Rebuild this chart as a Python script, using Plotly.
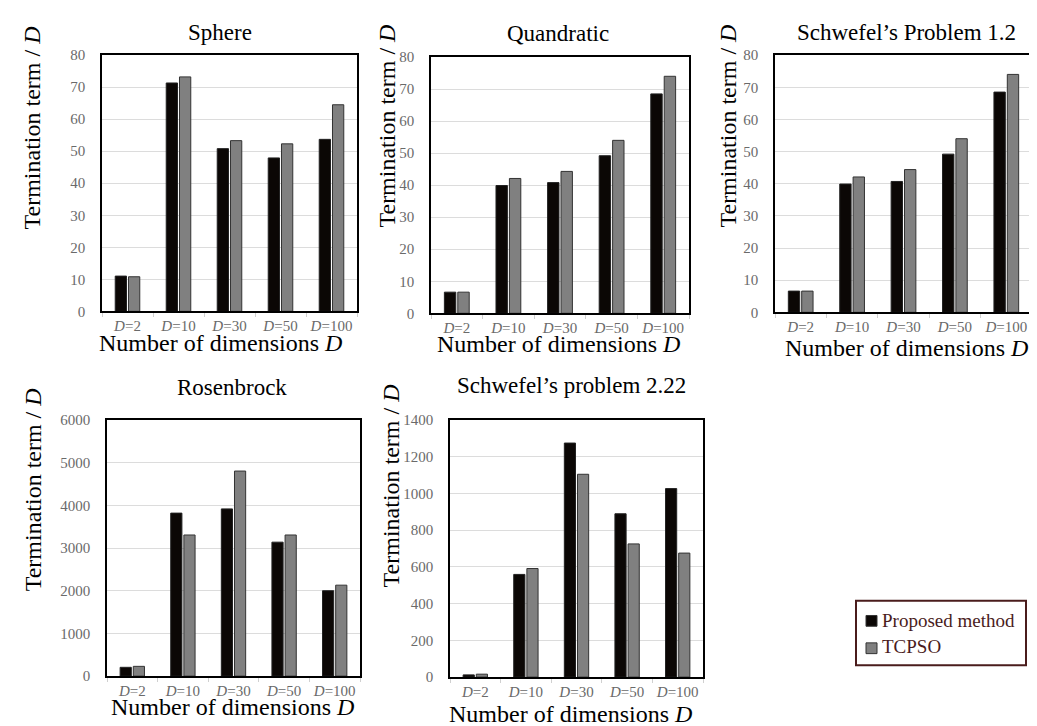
import plotly.graph_objects as go

categories = ["<i>D</i>=2", "<i>D</i>=10", "<i>D</i>=30", "<i>D</i>=50", "<i>D</i>=100"]
series_names = ["Proposed method", "TCPSO"]

sphere_proposed = [11.0, 71.3, 50.8, 47.9, 53.7]
sphere_tcpso = [10.8, 73.2, 53.3, 52.3, 64.5]
quadratic_proposed = [6.6, 39.9, 40.8, 49.2, 68.5]
quadratic_tcpso = [6.6, 42.1, 44.3, 54.0, 74.0]
schwefel12_proposed = [6.6, 39.9, 40.7, 49.2, 68.5]
schwefel12_tcpso = [6.6, 42.1, 44.4, 54.0, 74.0]
rosenbrock_proposed = [206, 3817, 3916, 3137, 2000]
rosenbrock_tcpso = [229, 3305, 4802, 3305, 2130]
schwefel222_proposed = [12, 559, 1274, 889, 1026]
schwefel222_tcpso = [16, 591, 1104, 725, 675]

titles = ["Sphere", "Quandratic", "Schwefel\u2019s Problem 1.2", "Rosenbrock", "Schwefel\u2019s problem 2.22"]
y_ranges = [[0, 80], [0, 80], [0, 80], [0, 6000], [0, 1400]]
y_dticks = [10, 10, 10, 1000, 200]

data = [
    (sphere_proposed, sphere_tcpso),
    (quadratic_proposed, quadratic_tcpso),
    (schwefel12_proposed, schwefel12_tcpso),
    (rosenbrock_proposed, rosenbrock_tcpso),
    (schwefel222_proposed, schwefel222_tcpso),
]

W, H = 1037, 726


def px(x):
    return x / W


def py(y):
    return 1 - y / H


# plot boxes in page pixels: (left, right, top, bottom)
boxes = [
    (94, 349, 40, 302),
    (423, 681, 42, 304),
    (767, 1024, 40, 303),
    (99, 352, 413, 675),
    (442, 695, 413, 676),
]
title_pos = [(212, 17), (550, 18), (898, 17), (224, 380), (563, 378)]
ytitle_pos = [(24, 115), (379, 113), (720, 113), (25, 485), (383, 481)]
xtitle_pos = [(212, 334), (550, 335), (898, 339), (224, 707), (562, 714)]

FONT = "Liberation Serif"
fills = ["#0b0705", "#808080"]
outlines = ["#222222", "#333333"]
LEG_COLOR = "#4a1c1c"

fig = go.Figure()
annotations = []
shapes = []
for i, (vals, box) in enumerate(zip(data, boxes)):
    sfx = "" if i == 0 else str(i + 1)
    l, r, t, b = box
    for s in range(2):
        fig.add_trace(go.Bar(
            x=categories, y=vals[s], name=series_names[s],
            marker=dict(color=fills[s], line=dict(color=outlines[s], width=1)),
            xaxis="x" + sfx, yaxis="y" + sfx,
            showlegend=False,
        ))
    fig.layout["xaxis" + sfx] = dict(
        domain=[px(l), px(r)], anchor="y" + sfx,
        type="category", tickangle=0,
        showline=True, mirror=True, linecolor="#000000", linewidth=1.5,
        ticks="outside", tickson="boundaries", ticklen=4, tickcolor="#d0d0d0",
        tickfont=dict(family=FONT, size=15, color="#6a6a6a"),
        showgrid=False,
    )
    fig.layout["yaxis" + sfx] = dict(
        domain=[py(b), py(t)], anchor="x" + sfx,
        range=y_ranges[i], dtick=y_dticks[i],
        showline=True, mirror=True, linecolor="#000000", linewidth=1.5,
        showgrid=True, gridcolor="#dcdcdc", gridwidth=1,
        zeroline=False,
        ticks="", ticklabelstandoff=12,
        tickfont=dict(family=FONT, size=15, color="#6a6a6a"),
    )
    tx, ty = title_pos[i]
    annotations.append(dict(text=titles[i], x=px(tx), y=py(ty), xref="paper", yref="paper",
                            showarrow=False, xanchor="center", yanchor="middle",
                            font=dict(family=FONT, size=23, color="#000000")))
    yx, yy = ytitle_pos[i]
    annotations.append(dict(text="Termination term / <i>D</i>", x=px(yx), y=py(yy),
                            xref="paper", yref="paper", textangle=-90,
                            showarrow=False, xanchor="center", yanchor="middle",
                            font=dict(family=FONT, size=24, color="#000000")))
    xx, xy = xtitle_pos[i]
    annotations.append(dict(text="Number of dimensions <i>D</i>", x=px(xx), y=py(xy),
                            xref="paper", yref="paper",
                            showarrow=False, xanchor="center", yanchor="middle",
                            font=dict(family=FONT, size=24, color="#000000")))

# manual legend
shapes.append(dict(type="rect", xref="paper", yref="paper",
                   x0=px(848), x1=px(1018), y0=py(664), y1=py(598),
                   line=dict(color=LEG_COLOR, width=2), fillcolor="#ffffff", layer="above"))
leg_rows = [(618, 613, 624), (645, 641, 652)]
for s, (ty, sy0, sy1) in enumerate(leg_rows):
    shapes.append(dict(type="rect", xref="paper", yref="paper",
                       x0=px(858), x1=px(869), y0=py(sy1), y1=py(sy0),
                       line=dict(color="#333333", width=1), fillcolor=fills[s], layer="above"))
    annotations.append(dict(text=series_names[s], x=px(872), y=py(ty), xref="paper", yref="paper",
                            showarrow=False, xanchor="left", yanchor="middle",
                            font=dict(family=FONT, size=19, color=LEG_COLOR)))

fig.update_layout(
    width=W, height=H,
    margin=dict(l=0, r=0, t=0, b=0),
    paper_bgcolor="#ffffff", plot_bgcolor="#ffffff",
    barmode="group", bargap=0.48, bargroupgap=0.15,
    annotations=annotations, shapes=shapes,
    showlegend=False,
)

fig.write_html("out.html")
